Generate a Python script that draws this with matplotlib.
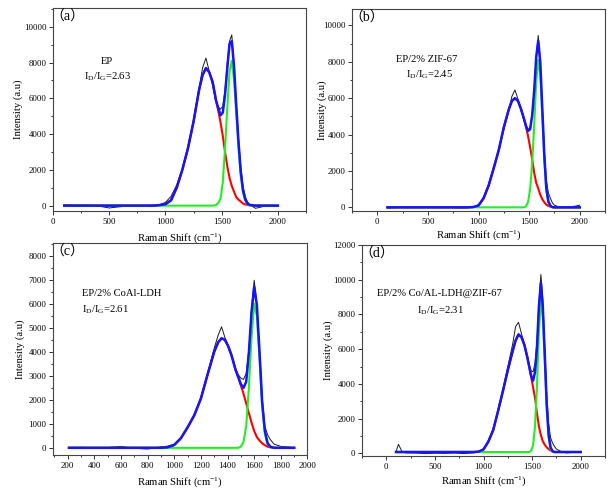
import matplotlib
matplotlib.use("Agg")
import matplotlib.pyplot as plt
from matplotlib.ticker import MultipleLocator, AutoMinorLocator

# ================================================================
# FONTS
# ================================================================
plt.rcParams["font.family"] = ["Liberation Serif", "Noto Sans CJK SC"]
plt.rcParams["mathtext.fontset"] = "custom"
plt.rcParams["mathtext.rm"] = "Liberation Serif"
plt.rcParams["mathtext.it"] = "Liberation Serif:italic"
plt.rcParams["axes.unicode_minus"] = False

# ================================================================
# DATA
# ================================================================
shift_ab = [100, 200, 300, 400, 500, 600, 700, 800, 900, 950, 1000, 1050,
            1100, 1150, 1200, 1250, 1300, 1330, 1360, 1390, 1420, 1450,
            1470, 1490, 1510, 1530, 1550, 1570, 1590, 1610, 1630, 1650,
            1670, 1690, 1710, 1730, 1750, 1800, 1850, 1900, 1950, 2000]

# (a) EP
raw_a = [60, 20, 40, -20, -130, -60, 10, 0, 30, 60, 180, 520,
         1150, 2050, 3300, 4800, 6600, 7700, 8250, 7500, 6700, 5800,
         5500, 5400, 5550, 6500, 8000, 9200, 9550, 7900, 5700, 3700,
         2200, 1100, 500, 200, 50, -150, -80, 20, -30, 0]
red_a = [0, 0, 0, 0, 0, 0, 0, 0, 0, 30, 80, 300,
         1000, 2000, 3200, 4700, 6500, 7300, 7690, 7450, 6900, 5850,
         5300, 4650, 3900, 3000, 2200, 1550, 1100, 780, 470, 330,
         230, 120, 70, 40, 20, 0, 0, 0, 0, 0]
green_a = [0, 0, 0, 0, 0, 0, 0, 0, 0, 0, 0, 0,
           0, 0, 0, 0, 0, 0, 0, 0, 0, 30,
           150, 400, 1300, 3200, 5500, 7500, 8100, 7000, 5100, 3200,
           1650, 730, 270, 80, 20, 0, 0, 0, 0, 0]
fit_a = [0, 0, 0, 0, 0, 0, 0, 0, 0, 30, 80, 300,
         1000, 2000, 3200, 4700, 6500, 7300, 7690, 7450, 6900, 5880,
         5450, 5050, 5200, 6200, 7700, 9050, 9200, 7780, 5570, 3530,
         1880, 850, 340, 120, 40, 0, 0, 0, 0, 0]

# (b) EP/2% ZIF-67
raw_b = [-40, -20, 30, 20, 40, 0, 10, -40, -20, 30, 140, 550,
         1250, 2200, 3150, 4300, 5400, 6100, 6450, 5950, 5350, 4800,
         4500, 4250, 4400, 5100, 6500, 8300, 9450, 8100, 5600, 3200,
         1500, 800, 500, 250, 120, 20, 0, 40, 60, 120]
red_b = [0, 0, 0, 0, 0, 0, 0, 0, 0, 20, 100, 500,
         1200, 2150, 3150, 4400, 5400, 5850, 6000, 5850, 5400, 4850,
         4400, 3900, 3300, 2650, 1900, 1350, 1050, 700, 450, 280,
         150, 80, 40, 15, 0, 0, 0, 0, 0, 0]
green_b = [0, 0, 0, 0, 0, 0, 0, 0, 0, 0, 0, 0,
           0, 0, 0, 0, 0, 0, 0, 0, 0, 0,
           60, 300, 1000, 2400, 4500, 6900, 8100, 7300, 5000, 2600,
           900, 250, 50, 0, 0, 0, 0, 0, 0, 0]
fit_b = [0, 0, 0, 0, 0, 0, 0, 0, 0, 20, 100, 500,
         1200, 2150, 3150, 4400, 5400, 5850, 6000, 5850, 5400, 4850,
         4460, 4200, 4300, 5050, 6400, 8250, 9150, 8000, 5450, 2880,
         1050, 330, 90, 15, 0, 0, 0, 0, 0, 0]

# (c) EP/2% CoAl-LDH
shift_c = [210, 300, 400, 500, 600, 700, 800, 900, 950, 1000, 1050, 1100,
           1150, 1200, 1250, 1300, 1330, 1355, 1380, 1405, 1430, 1460,
           1480, 1500, 1520, 1540, 1560, 1580, 1600, 1620, 1640, 1660,
           1680, 1700, 1720, 1750, 1800, 1850, 1900]
raw_c = [0, 20, -30, 10, 60, -20, -50, 40, 70, 150, 400, 820,
         1350, 2100, 3100, 4150, 4700, 5040, 4600, 4250, 3800, 3300,
         3050, 2900, 2850, 3100, 4100, 5800, 6980, 6000, 4100, 2100,
         900, 550, 350, 150, 60, 40, 0]
red_c = [0, 0, 0, 0, 0, 0, 0, 0, 20, 120, 400, 850,
         1350, 2050, 3050, 4000, 4400, 4560, 4500, 4230, 3850, 3250,
         2950, 2600, 2250, 1850, 1450, 1050, 700, 450, 300, 190,
         110, 50, 20, 0, 0, 0, 0]
green_c = [0, 0, 0, 0, 0, 0, 0, 0, 0, 0, 0, 0,
           0, 0, 0, 0, 0, 0, 0, 0, 0, 0,
           0, 50, 250, 900, 2500, 4600, 6000, 5500, 3700, 1700,
           600, 150, 30, 0, 0, 0, 0]
fit_c = [0, 0, 0, 0, 0, 0, 0, 0, 20, 120, 400, 850,
         1350, 2050, 3050, 4000, 4400, 4560, 4500, 4230, 3850, 3250,
         2950, 2650, 2500, 2750, 3950, 5650, 6700, 5950, 4000, 1890,
         710, 200, 50, 0, 0, 0, 0]

# (d) EP/2% Co/AL-LDH@ZIF-67
shift_d = [100, 125, 160, 200, 300, 400, 500, 600, 700, 800, 900, 950,
           1000, 1050, 1100, 1150, 1200, 1250, 1300, 1330, 1360, 1390,
           1420, 1450, 1470, 1490, 1510, 1530, 1550, 1570, 1590, 1610,
           1630, 1650, 1670, 1690, 1710, 1730, 1750, 1800, 1850, 1900,
           1950, 2000]
raw_d = [100, 520, 120, 30, 20, -10, 10, 0, 20, -10, 30, 80,
         250, 750, 1400, 2500, 3700, 5000, 6300, 7300, 7550, 6900,
         6300, 5600, 5100, 4750, 4700, 5200, 6500, 8700, 10300, 8900,
         6100, 3400, 1700, 900, 600, 400, 250, 100, 30, 50,
         80, 100]
red_d = [80, 80, 80, 80, 80, 80, 80, 80, 80, 80, 80, 100,
         230, 680, 1350, 2450, 3600, 4800, 5900, 6500, 6850, 6700,
         6250, 5550, 5000, 4400, 3800, 3200, 2300, 1550, 1050, 700,
         500, 350, 250, 170, 110, 80, 80, 80, 80, 80,
         80, 80]
green_d = [80, 80, 80, 80, 80, 80, 80, 80, 80, 80, 80, 80,
           80, 80, 80, 80, 80, 80, 80, 80, 80, 80,
           80, 80, 80, 150, 470, 1560, 3900, 7000, 8850, 7800,
           5300, 2600, 900, 250, 100, 80, 80, 80, 80, 80,
           80, 80]
fit_d = [80, 80, 80, 80, 80, 80, 80, 80, 80, 80, 80, 100,
         230, 680, 1350, 2450, 3600, 4800, 5900, 6500, 6850, 6700,
         6250, 5550, 5000, 4470, 4190, 4680, 6120, 8470, 9820, 8420,
         5720, 2870, 1070, 340, 130, 80, 80, 80, 80, 80,
         80, 80]


def draw_panel(ax, shift, raw, red, green, fit, tag, lines, text_pos,
               ha, xlim, ylim, xmajor, ymajor, xlab_y, ylab_x):
    ax.plot(shift, raw, color="#1a1a1a", lw=0.7)
    ax.plot(shift, red, color="#ff0000", lw=1.5)
    ax.plot(shift, green, color="#22ee22", lw=1.5)
    ax.plot(shift, fit, color="#1414ff", lw=1.8)

    ax.set_xlim(*xlim)
    ax.set_ylim(*ylim)
    ax.xaxis.set_major_locator(MultipleLocator(xmajor))
    ax.yaxis.set_major_locator(MultipleLocator(ymajor))
    ax.xaxis.set_minor_locator(AutoMinorLocator(2))
    ax.yaxis.set_minor_locator(AutoMinorLocator(2))
    ax.tick_params(which="both", direction="out", labelsize=6.3,
                   color="#333333", width=0.7)
    ax.tick_params(which="major", length=2.8, pad=2)
    ax.tick_params(which="minor", length=1.6)
    for sp in ax.spines.values():
        sp.set_linewidth(0.8)
        sp.set_color("#444444")

    ax.set_xlabel("Raman Shift (cm$^{-1}$)", fontsize=7.7)
    ax.set_ylabel("Intensity (a.u)", fontsize=7.7)
    ax.xaxis.set_label_coords(0.5, xlab_y)
    ax.yaxis.set_label_coords(ylab_x, 0.5)

    # panel tag with full-width brackets
    ax.text(-0.012, 0.955, tag, transform=ax.transAxes, fontsize=10,
            ha="left", va="center")
    for (tx, ty), s in zip(text_pos, lines):
        ax.text(tx, ty, s, transform=ax.transAxes, fontsize=7.6,
                ha=ha, va="center")


# ================================================================
# FIGURE
# ================================================================
fig = plt.figure(figsize=(6.14, 4.90), dpi=100)

ax_a = fig.add_axes([0.0863, 0.5694, 0.4121, 0.4143])
ax_b = fig.add_axes([0.5733, 0.5694, 0.4121, 0.4122])
ax_c = fig.add_axes([0.0863, 0.0714, 0.4145, 0.4327])
ax_d = fig.add_axes([0.5896, 0.0694, 0.3958, 0.4306])

draw_panel(ax_a, shift_ab, raw_a, red_a, green_a, fit_a, "（a）",
           ["EP", "I$_\\mathrm{D}$/I$_\\mathrm{G}$=2.63"],
           [(0.213, 0.734), (0.215, 0.66)], "center",
           (0, 2250), (-300, 11050), 500, 2000, -0.099, -0.119)
draw_panel(ax_b, shift_ab, raw_b, red_b, green_b, fit_b, "（b）",
           ["EP/2% ZIF-67", "I$_\\mathrm{D}$/I$_\\mathrm{G}$=2.45"],
           [(0.294, 0.748), (0.308, 0.673)], "center",
           (-250, 2250), (-200, 10900), 500, 2000, -0.084, -0.099)
draw_panel(ax_c, shift_c, raw_c, red_c, green_c, fit_c, "（c）",
           ["EP/2% CoAl-LDH", "I$_\\mathrm{D}$/I$_\\mathrm{G}$=2.61"],
           [(0.114, 0.764), (0.114, 0.684)], "left",
           (90, 2000), (-300, 8530), 200, 1000, -0.094, -0.11)
draw_panel(ax_d, shift_d, raw_d, red_d, green_d, fit_d, "（d）",
           ["EP/2% Co/AL-LDH@ZIF-67", "I$_\\mathrm{D}$/I$_\\mathrm{G}$=2.31"],
           [(0.317, 0.768), (0.321, 0.687)], "center",
           (-250, 2250), (-150, 12000), 500, 2000, -0.085, -0.119)

fig.savefig("out.png", dpi=100)
